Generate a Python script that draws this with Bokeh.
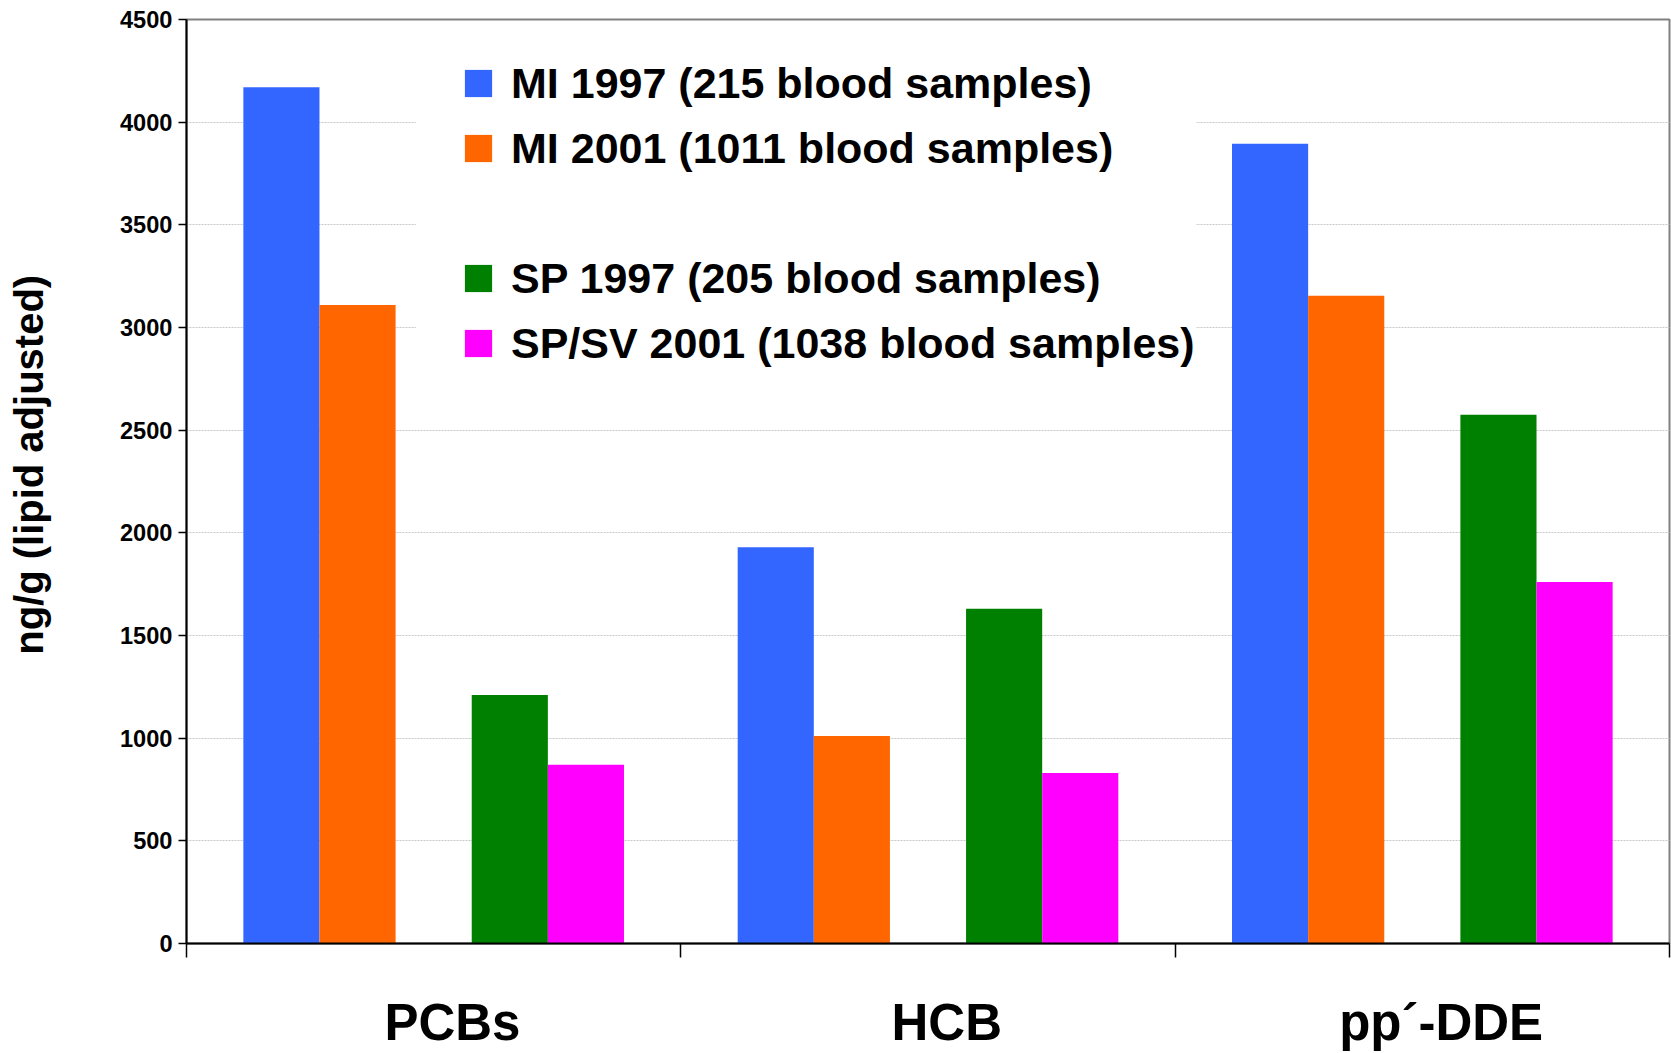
from bokeh.plotting import figure
from bokeh.models import (Range1d, FixedTicker, ColumnDataSource, Legend, LegendItem,
                          BoxAnnotation)
from bokeh.transform import dodge
from bokeh.embed import file_html
from bokeh.resources import INLINE

# ---- data ----
categories = ["PCBs", "HCB", "pp\u00b4-DDE"]
series_labels = ["MI 1997 (215 blood samples)",
                 "MI 2001 (1011 blood samples)",
                 "SP 1997 (205 blood samples)",
                 "SP/SV 2001 (1038 blood samples)"]
mi_1997 = [4170, 1930, 3895]
mi_2001 = [3110, 1010, 3155]
sp_1997 = [1210, 1630, 2575]
sp_sv_2001 = [870, 830, 1760]
y_ticks = [0, 500, 1000, 1500, 2000, 2500, 3000, 3500, 4000, 4500]
colors = ["#3366FF", "#FF6600", "#008000", "#FF00FF"]
y_label = "ng/g (lipid adjusted)"

FONT = "Liberation Sans"

pos = [i + 0.5 for i in range(len(categories))]
bounds = [i for i in range(len(categories) + 1)]
source = ColumnDataSource(dict(pos=pos, mi_1997=mi_1997, mi_2001=mi_2001,
                               sp_1997=sp_1997, sp_sv_2001=sp_sv_2001))

p = figure(width=1671, height=1053, output_backend="svg", toolbar_location=None,
           x_range=Range1d(0, len(categories)), y_range=Range1d(0, 4500),
           min_border_left=186, min_border_right=2, min_border_top=19,
           min_border_bottom=110)
p.background_fill_color = "white"
p.border_fill_color = "white"
p.outline_line_color = "#808080"
p.outline_line_width = 2

bw = 0.154
offsets = [-2 * bw, -1 * bw, 1 * bw, 2 * bw]
keys = ["mi_1997", "mi_2001", "sp_1997", "sp_sv_2001"]
renderers = []
for k, off, c in zip(keys, offsets, colors):
    r = p.vbar(x=dodge("pos", off, range=p.x_range), top=k, width=bw, bottom=0,
               source=source, fill_color=c, line_color=None)
    renderers.append(r)

# invisible spacer series (legend gap)
spacer = p.vbar(x=[], top=[], width=bw, fill_alpha=0, line_alpha=0)

# grid
p.xgrid.visible = False
p.ygrid.grid_line_color = "#c8c8c8"
p.ygrid.grid_line_width = 1
p.ygrid.grid_line_dash = "2 1"

# y axis
p.yaxis.ticker = FixedTicker(ticks=y_ticks)
p.yaxis.major_label_text_font = FONT
p.yaxis.major_label_text_font_style = "bold"
p.yaxis.major_label_text_font_size = "23.6px"
p.yaxis.major_label_text_color = "black"
p.yaxis.major_label_standoff = 6
p.yaxis.major_tick_out = 8
p.yaxis.major_tick_in = 0
p.yaxis.major_tick_line_color = "black"
p.yaxis.major_tick_line_width = 1.5
p.yaxis.minor_tick_line_color = None
p.yaxis.axis_line_color = "black"
p.yaxis.axis_line_width = 2
# leading no-break spaces nudge the (centred) label slightly upwards
p.yaxis.axis_label = "\u00a0\u00a0\u00a0" + y_label
p.yaxis.axis_label_text_font = FONT
p.yaxis.axis_label_text_font_style = "bold"
p.yaxis.axis_label_text_font_size = "40px"
p.yaxis.axis_label_text_color = "black"
p.yaxis.axis_label_standoff = 66

# x axis
label_shift = 0.038
p.xaxis.ticker = FixedTicker(ticks=[v + label_shift for v in pos], minor_ticks=bounds)
p.xaxis.major_label_overrides = {v + label_shift: c for v, c in zip(pos, categories)}
p.xaxis.major_label_text_font = FONT
p.xaxis.major_label_text_font_style = "bold"
p.xaxis.major_label_text_font_size = "51px"
p.xaxis.major_label_text_color = "black"
p.xaxis.major_label_standoff = 36
p.xaxis.major_tick_out = 0
p.xaxis.major_tick_in = 0
p.xaxis.major_tick_line_color = None
p.xaxis.minor_tick_out = 14
p.xaxis.minor_tick_in = 0
p.xaxis.minor_tick_line_color = "black"
p.xaxis.minor_tick_line_width = 1.5
p.xaxis.axis_line_color = "black"
p.xaxis.axis_line_width = 2

# white background behind the legend (hides grid lines there)
box = BoxAnnotation(left=0.464, right=2.042, bottom=2700, top=4400,
                    fill_color="white", fill_alpha=1.0, line_color=None)
p.add_layout(box)

items = [LegendItem(label=series_labels[0], renderers=[renderers[0]]),
         LegendItem(label=series_labels[1], renderers=[renderers[1]]),
         LegendItem(label=" ", renderers=[spacer]),
         LegendItem(label=series_labels[2], renderers=[renderers[2]]),
         LegendItem(label=series_labels[3], renderers=[renderers[3]])]
legend = Legend(items=items, location=(275, 575))
legend.margin = 0
legend.padding = 0
legend.spacing = 15
legend.label_height = 50
legend.glyph_height = 34
legend.glyph_width = 34
legend.label_standoff = 16
legend.label_text_font = FONT
legend.label_text_font_style = "bold"
legend.label_text_font_size = "43px"
legend.label_text_color = "black"
legend.background_fill_alpha = 0
legend.border_line_alpha = 0
p.add_layout(legend)

open("out.html", "w").write(file_html(p, INLINE))
